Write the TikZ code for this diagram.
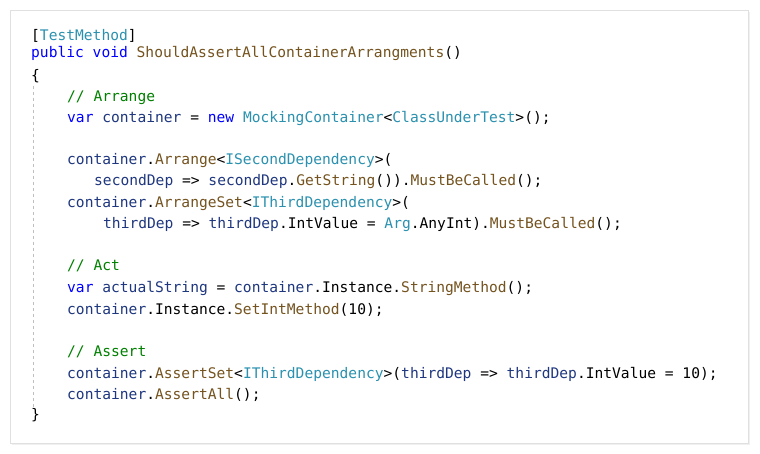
\documentclass[tikz,border=0pt]{standalone}
\usepackage{fontspec}
\setmonofont{DejaVu Sans Mono}
\definecolor{kw}{HTML}{0000FF}
\definecolor{ty}{HTML}{2B91AF}
\definecolor{me}{HTML}{74531F}
\definecolor{cm}{HTML}{008000}
\definecolor{idc}{HTML}{1F377F}
\newcommand{\K}[1]{\textcolor{kw}{#1}}
\newcommand{\T}[1]{\textcolor{ty}{#1}}
\newcommand{\M}[1]{\textcolor{me}{#1}}
\newcommand{\C}[1]{\textcolor{cm}{#1}}
\newcommand{\I}[1]{\textcolor{idc}{#1}}
\begin{document}
\begin{tikzpicture}[x=1pt,y=-1pt,
  ln/.style={anchor=base west,inner sep=0pt,font=\ttfamily\fontsize{14.6}{16}\selectfont,text=black}]
\useasboundingbox (0,0) rectangle (760,454);
\fill[white] (0,0) rectangle (760,454);
\fill[black!6] (12,12) rectangle (750,445);
\fill[white,draw=black!12] (10,10) rectangle (748,443);
\draw[black!25,dash pattern=on 3pt off 3pt] (33,86) -- (33,408);
\node[ln] (l0) at (31,41) {[\T{TestMethod}]};
\node[ln] (l1) at (31,58) {\K{public} \K{void} \M{ShouldAssertAllContainerArrangments}()};
\node[ln] (l2) at (31,81) {\{};
\node[ln] (l3) at (67,102) {\C{// Arrange}};
\node[ln] (l4) at (67,123) {\K{var} \I{container} = \K{new} \T{MockingContainer}<\T{ClassUnderTest}>();};
\node[ln] (l6) at (67,165) {\I{container}.\M{Arrange}<\T{ISecondDependency}>(};
\node[ln] (l7) at (94,186) {\I{secondDep} => \I{secondDep}.\M{GetString}()).\M{MustBeCalled}();};
\node[ln] (l8) at (67,208) {\I{container}.\M{ArrangeSet}<\T{IThirdDependency}>(};
\node[ln] (l9) at (103,229) {\I{thirdDep} => \I{thirdDep}.IntValue = \T{Arg}.AnyInt).\M{MustBeCalled}();};
\node[ln] (l11) at (67,271) {\C{// Act}};
\node[ln] (l12) at (67,293) {\K{var} \I{actualString} = \I{container}.Instance.\M{StringMethod}();};
\node[ln] (l13) at (67,314) {\I{container}.Instance.\M{SetIntMethod}(10);};
\node[ln] (l15) at (67,356) {\C{// Assert}};
\node[ln] (l16) at (67,378) {\I{container}.\M{AssertSet}<\T{IThirdDependency}>(\I{thirdDep} => \I{thirdDep}.IntValue = 10);};
\node[ln] (l17) at (67,399) {\I{container}.\M{AssertAll}();};
\node[ln] (l18) at (31,419) {\}};
\end{tikzpicture}
\end{document}
